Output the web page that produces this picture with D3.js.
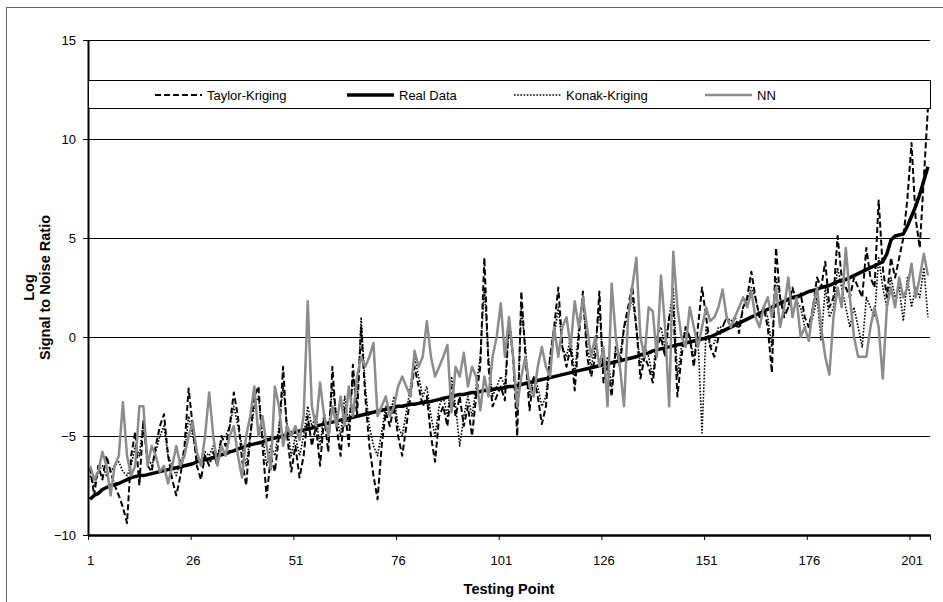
<!DOCTYPE html>
<html>
<head>
<meta charset="utf-8">
<script src="https://cdn.jsdelivr.net/npm/d3@7"></script>
<style>
  body { margin: 0; background: #fff; }
  svg text { font-family: Arial, "Liberation Sans", sans-serif; }
</style>
</head>
<body>
<div id="chart"></div>
<script>
// Testing points 1..205
const points = d3.range(1, 206);

const realData = [
  -8.2,-8.0,-7.9,-7.7,-7.6,-7.5,-7.45,-7.4,-7.3,-7.2,
  -7.1,-7.05,-7.0,-7.0,-6.95,-6.9,-6.85,-6.8,-6.75,-6.7,
  -6.65,-6.6,-6.55,-6.5,-6.45,-6.4,-6.3,-6.25,-6.2,-6.15,
  -6.1,-6.0,-5.95,-5.9,-5.8,-5.75,-5.65,-5.6,-5.5,-5.45,
  -5.4,-5.35,-5.3,-5.2,-5.15,-5.1,-5.05,-5.0,-4.9,-4.85,
  -4.8,-4.75,-4.7,-4.65,-4.6,-4.5,-4.45,-4.4,-4.35,-4.3,
  -4.25,-4.2,-4.15,-4.1,-4.05,-4.0,-3.95,-3.9,-3.85,-3.8,
  -3.75,-3.7,-3.65,-3.6,-3.55,-3.5,-3.5,-3.45,-3.4,-3.4,
  -3.35,-3.3,-3.3,-3.25,-3.2,-3.15,-3.1,-3.05,-3.0,-2.95,
  -2.9,-2.9,-2.85,-2.8,-2.8,-2.75,-2.7,-2.7,-2.65,-2.6,
  -2.6,-2.55,-2.5,-2.5,-2.45,-2.4,-2.35,-2.3,-2.25,-2.2,
  -2.15,-2.1,-2.05,-2.0,-1.95,-1.9,-1.85,-1.8,-1.75,-1.7,
  -1.65,-1.6,-1.55,-1.5,-1.45,-1.4,-1.35,-1.3,-1.25,-1.2,
  -1.15,-1.1,-1.05,-1.0,-0.9,-0.85,-0.8,-0.7,-0.65,-0.6,
  -0.55,-0.5,-0.45,-0.4,-0.35,-0.3,-0.25,-0.2,-0.15,-0.1,
  -0.05,0.0,0.1,0.2,0.3,0.4,0.5,0.6,0.7,0.8,
  0.9,1.0,1.1,1.2,1.3,1.4,1.5,1.6,1.7,1.8,
  1.9,2.0,2.05,2.1,2.2,2.3,2.35,2.4,2.5,2.55,
  2.6,2.7,2.8,2.85,2.9,3.0,3.1,3.2,3.3,3.4,
  3.5,3.6,3.7,3.8,4.2,4.9,5.1,5.15,5.2,5.6,
  6.1,6.6,7.2,7.9,8.6
];

const taylorKriging = [
  -6.6,-8.0,-6.5,-7.2,-6.0,-6.8,-7.5,-8.0,-8.6,-9.4,
  -6.0,-4.8,-7.5,-4.2,-6.5,-6.8,-5.5,-4.5,-3.9,-6.0,
  -7.2,-8.0,-7.0,-5.5,-2.6,-4.5,-6.5,-7.2,-6.0,-6.5,
  -5.8,-6.5,-5.0,-5.5,-4.5,-2.8,-4.0,-6.2,-7.5,-5.0,
  -3.0,-2.5,-5.5,-8.1,-6.0,-6.8,-5.0,-1.5,-5.0,-6.8,
  -5.5,-7.1,-6.0,-4.0,-5.5,-4.5,-6.5,-4.0,-5.8,-1.5,
  -4.5,-6.0,-3.5,-5.5,-1.4,-4.0,0.5,-3.0,-5.5,-7.0,
  -8.2,-5.5,-3.8,-4.5,-3.5,-5.0,-6.0,-4.5,-3.0,-1.5,
  -2.5,-3.5,-3.0,-5.0,-6.3,-4.0,-3.5,-4.5,-2.5,-4.0,
  -3.0,-4.5,-3.5,-5.0,-3.0,-1.5,4.0,-1.5,-3.5,-3.0,
  -2.5,-3.2,1.0,-1.0,-5.0,2.3,-1.0,-3.7,-2.0,-3.0,
  -4.4,-3.5,-1.0,0.5,2.5,-0.5,-1.5,-0.5,-2.7,0.0,
  2.3,-1.0,-2.0,-1.0,2.3,-2.3,-1.5,-3.0,-0.5,-1.5,
  0.5,1.5,2.6,0.5,-2.1,-1.0,-1.5,-2.3,-0.5,0.0,
  -1.0,1.0,1.5,-3.0,-1.0,0.5,0.0,-1.5,0.5,2.5,
  1.0,-0.5,-1.0,0.0,0.5,1.0,0.5,1.0,0.2,1.5,
  2.0,3.3,2.0,1.0,1.5,0.5,-1.8,4.5,2.0,1.0,
  1.5,2.5,1.8,2.2,1.0,0.5,1.5,3.0,2.5,3.8,
  1.5,2.0,5.1,3.0,2.5,2.0,3.0,2.5,2.0,4.5,
  3.0,2.5,6.9,3.5,2.0,4.0,3.0,4.0,5.0,7.0,
  9.8,6.0,4.5,8.0,11.6
];

const konakKriging = [
  -7.0,-7.5,-6.8,-6.5,-7.0,-6.8,-6.5,-6.3,-6.8,-7.0,
  -6.5,-5.5,-6.0,-4.2,-6.0,-6.5,-5.8,-5.0,-4.5,-6.0,
  -6.5,-7.0,-6.2,-6.0,-4.0,-5.0,-6.0,-6.5,-5.8,-6.0,
  -5.5,-6.0,-5.2,-5.0,-4.5,-3.5,-4.5,-5.5,-6.5,-5.0,
  -3.5,-3.0,-5.0,-6.5,-5.5,-6.0,-4.5,-2.5,-4.5,-6.0,
  -5.0,-6.0,-5.0,-3.5,-4.5,-4.0,-5.5,-3.8,-5.0,-2.5,
  -4.0,-5.0,-3.0,-4.5,-2.0,-3.5,1.0,-2.5,-4.5,-5.5,
  -6.0,-4.8,-3.5,-4.0,-3.0,-4.5,-5.0,-3.8,-2.5,-1.0,
  -2.0,-3.0,-2.5,-4.0,-5.0,-3.5,-3.0,-4.0,-2.0,-3.5,
  -5.5,-4.0,-3.0,-4.0,-2.5,-1.0,2.5,-1.0,-3.0,-2.5,
  -2.0,-2.5,0.5,-1.0,-4.0,1.5,-0.5,-3.0,-2.0,-2.5,
  -3.5,-3.0,-1.0,0.0,1.5,-0.5,-1.0,0.0,-2.0,0.5,
  2.0,-0.5,-1.5,-0.5,1.5,-1.8,-1.0,-2.5,-0.5,-1.0,
  0.5,1.0,2.0,0.5,-1.5,-0.5,-1.0,-2.0,0.0,0.5,
  -0.5,1.0,2.5,-2.0,-0.5,0.5,0.0,-1.0,0.0,-4.85,
  0.5,-0.5,-0.3,0.5,0.5,1.0,0.8,1.0,0.5,1.5,
  1.8,2.5,2.0,1.0,1.5,1.0,-0.5,3.0,2.0,1.2,
  1.5,2.0,1.8,1.5,0.5,0.5,1.0,2.0,-0.2,2.5,
  1.0,1.5,3.5,2.5,1.5,0.5,1.5,0.5,-0.5,2.0,
  1.5,1.0,4.0,2.5,1.5,3.0,2.0,2.5,0.8,3.0,
  1.5,2.5,2.0,3.5,1.0
];

const nn = [
  -6.5,-7.2,-6.8,-5.8,-6.5,-8.0,-6.5,-6.0,-3.3,-6.0,
  -7.0,-6.5,-3.5,-3.5,-6.5,-5.5,-6.0,-6.8,-6.5,-7.4,
  -6.5,-5.5,-6.5,-6.0,-5.0,-4.3,-5.8,-6.5,-5.0,-2.8,
  -5.0,-6.5,-5.5,-6.0,-5.0,-4.5,-6.0,-7.1,-5.0,-4.0,
  -2.5,-5.0,-4.0,-5.5,-6.7,-2.5,-3.5,-5.5,-4.5,-5.0,
  -4.5,-5.2,-4.0,1.8,-3.5,-4.5,-2.3,-4.0,-5.0,-3.5,
  -4.5,-3.0,-4.5,-2.5,-4.0,-2.0,-1.0,-1.5,-1.0,-0.3,
  -4.0,-3.5,-3.0,-4.0,-3.5,-2.5,-2.0,-2.5,-3.0,-0.7,
  -1.5,-1.0,0.8,-1.0,-2.0,-1.5,-1.0,-0.4,-3.8,-1.5,
  -2.0,-0.8,-2.5,-1.5,-2.0,-3.7,-2.0,-3.0,-1.0,0.0,
  1.7,-1.0,1.0,-1.0,-3.5,-2.0,-1.0,-2.5,-3.0,-1.5,
  -0.5,-1.5,-2.0,0.5,-1.0,0.5,1.0,-0.5,1.8,0.5,
  2.0,0.5,-1.0,0.0,-1.5,-0.5,-3.5,2.7,0.0,-1.5,
  -3.5,1.0,2.5,4.0,0.0,-1.0,1.5,1.3,-1.0,3.1,
  0.5,-3.5,4.3,1.5,0.0,-0.5,1.5,0.5,-0.5,0.5,
  1.5,0.8,1.0,1.5,2.4,1.0,0.5,1.0,1.5,2.0,
  1.5,2.3,1.0,0.5,1.5,2.0,1.0,2.5,0.5,1.5,
  3.0,1.0,2.0,0.0,0.5,-0.2,1.5,2.5,0.5,-1.0,
  -1.9,1.0,2.5,1.5,4.5,2.0,0.0,-1.0,-1.0,-1.0,
  0.5,1.5,0.5,-2.1,1.5,2.5,1.5,3.0,2.0,2.5,
  3.7,2.0,3.0,4.2,3.1
];

const yTicks = [-10, -5, 0, 5, 10, 15];
const xTickLabels = [1, 26, 51, 76, 101, 126, 151, 176, 201];
const xTickMarks = [0.5, 25.5, 50.5, 75.5, 100.5, 125.5, 150.5, 175.5, 200.5, 205.5];

const series = [
  { name: "Taylor-Kriging", values: taylorKriging, color: "#000", width: 2, dash: "6,3" },
  { name: "Real Data", values: realData, color: "#000", width: 3.5, dash: null },
  { name: "Konak-Kriging", values: konakKriging, color: "#000", width: 1.6, dash: "1.6,1.6" },
  { name: "NN", values: nn, color: "#8c8c8c", width: 2.5, dash: null }
];

const W = 943, H = 602;
const plotLeft = 88, plotRight = 930, plotTop = 40, plotBottom = 535;

const svg = d3.select("#chart").append("svg")
  .attr("width", W)
  .attr("height", H);

// chart frame
svg.append("rect")
  .attr("x", 6.5).attr("y", 7.5)
  .attr("width", 960).attr("height", 620)
  .attr("fill", "none")
  .attr("stroke", "#666")
  .attr("stroke-width", 1);

const x = d3.scaleLinear().domain([0.5, 205.5]).range([plotLeft, plotRight]);
const y = d3.scaleLinear().domain([-10, 15]).range([plotBottom, plotTop]);

// gridlines
svg.append("g")
  .selectAll("line")
  .data(yTicks.filter(d => d > -10))
  .join("line")
  .attr("x1", plotLeft).attr("x2", plotRight)
  .attr("y1", d => Math.round(y(d)) + 0.5)
  .attr("y2", d => Math.round(y(d)) + 0.5)
  .attr("stroke", "#000")
  .attr("stroke-width", 1);

// y axis
const yAxis = svg.append("g")
  .attr("transform", "translate(" + plotLeft + ",0)")
  .call(d3.axisLeft(y).tickValues(yTicks).tickSize(5).tickSizeOuter(0).tickPadding(7));
yAxis.select(".domain").attr("stroke-width", 2);
yAxis.selectAll("text").attr("font-size", 13).attr("fill", "#000").attr("font-family", "Arial, Liberation Sans");

// x axis tick marks
const xAxis = svg.append("g")
  .attr("transform", "translate(0," + plotBottom + ")")
  .call(d3.axisBottom(x).tickValues(xTickMarks).tickFormat("").tickSize(5).tickSizeOuter(0));
xAxis.select(".domain").attr("stroke-width", 2.5);

// x axis labels
const xLabels = svg.append("g")
  .attr("transform", "translate(0," + plotBottom + ")")
  .call(d3.axisBottom(x).tickValues(xTickLabels).tickSize(0).tickPadding(21));
xLabels.select(".domain").remove();
xLabels.selectAll("text").attr("font-size", 13).attr("fill", "#000").attr("font-family", "Arial, Liberation Sans");

// series lines
const lineGen = vals => d3.line()
  .x((d, i) => x(points[i]))
  .y(d => y(d))(vals);

svg.append("g")
  .selectAll("path")
  .data(series)
  .join("path")
  .attr("d", d => lineGen(d.values))
  .attr("fill", "none")
  .attr("stroke", d => d.color)
  .attr("stroke-width", d => d.width)
  .attr("stroke-dasharray", d => d.dash)
  .attr("stroke-linejoin", "round");

// legend
svg.append("rect")
  .attr("x", plotLeft + 0.5).attr("y", 80.5)
  .attr("width", plotRight - plotLeft).attr("height", 28)
  .attr("fill", "#fff")
  .attr("stroke", "#000")
  .attr("stroke-width", 1);

const legendPos = [155, 347, 514, 705];
const lg = svg.append("g").selectAll("g")
  .data(series)
  .join("g")
  .attr("transform", (d, i) => "translate(" + legendPos[i] + ",95)");
lg.append("line")
  .attr("x1", 0).attr("x2", 47)
  .attr("stroke", d => d.color)
  .attr("stroke-width", d => d.width)
  .attr("stroke-dasharray", d => d.dash);
lg.append("text")
  .attr("x", 52).attr("y", 4.5)
  .attr("font-size", 13)
  .text(d => d.name);

// axis titles
svg.append("text")
  .attr("x", (plotLeft + plotRight) / 2).attr("y", 594)
  .attr("text-anchor", "middle")
  .attr("font-size", 14.5).attr("font-weight", "bold")
  .text("Testing Point");

const yTitle = svg.append("text")
  .attr("transform", "translate(34," + (plotTop + plotBottom) / 2 + ") rotate(-90)")
  .attr("text-anchor", "middle")
  .attr("font-size", 14.5).attr("font-weight", "bold");
yTitle.append("tspan").attr("x", 0).attr("dy", 0).text("Log");
yTitle.append("tspan").attr("x", 0).attr("dy", 16).text("Signal to Noise Ratio");
</script>
</body>
</html>
